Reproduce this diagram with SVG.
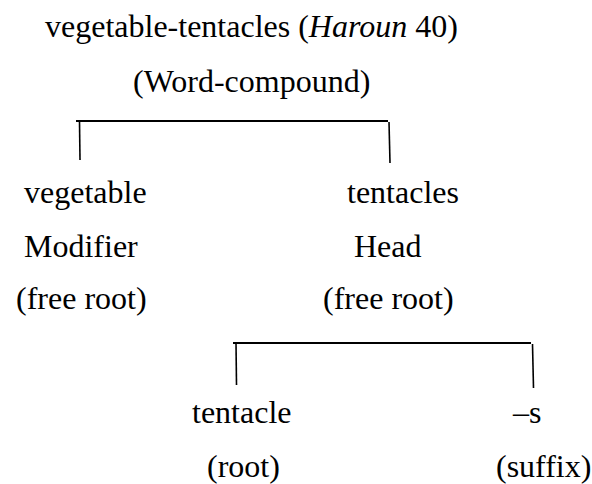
<svg xmlns="http://www.w3.org/2000/svg" width="592" height="484" viewBox="0 0 592 484">
<style>
text { font-family: "Liberation Serif", "Times New Roman", serif; font-size: 32px; fill: #000; }
.h { stroke: #000; stroke-width: 2; fill: none; }
.v { stroke: #000; stroke-width: 1.6; fill: none; }
</style>
<rect width="592" height="484" fill="#fff"/>
<g id="root-node">
<text x="45" y="37">vegetable-tentacles (<tspan font-style="italic">Haroun</tspan> 40)</text>
<text x="133" y="92">(Word-compound)</text>
</g>
<g id="modifier-node">
<text x="24" y="203">vegetable</text>
<text x="24" y="257">Modifier</text>
<text x="16" y="309">(free root)</text>
</g>
<g id="head-node">
<text x="347" y="203">tentacles</text>
<text x="354" y="257">Head</text>
<text x="323" y="309">(free root)</text>
</g>
<g id="root-morph-node">
<text x="192" y="423">tentacle</text>
<text x="207" y="477">(root)</text>
</g>
<g id="suffix-node">
<text x="513" y="423">–s</text>
<text x="496" y="477">(suffix)</text>
</g>
<g id="connectors">
<line class="h" x1="76" y1="121" x2="388" y2="121"/>
<line class="v" x1="79.5" y1="121" x2="80" y2="160"/>
<line class="v" x1="389" y1="122" x2="390" y2="163"/>
<line class="h" x1="233" y1="343" x2="531" y2="343"/>
<line class="v" x1="236" y1="343" x2="236.5" y2="385"/>
<line class="v" x1="532.5" y1="344" x2="533.5" y2="388"/>
</g>
</svg>
